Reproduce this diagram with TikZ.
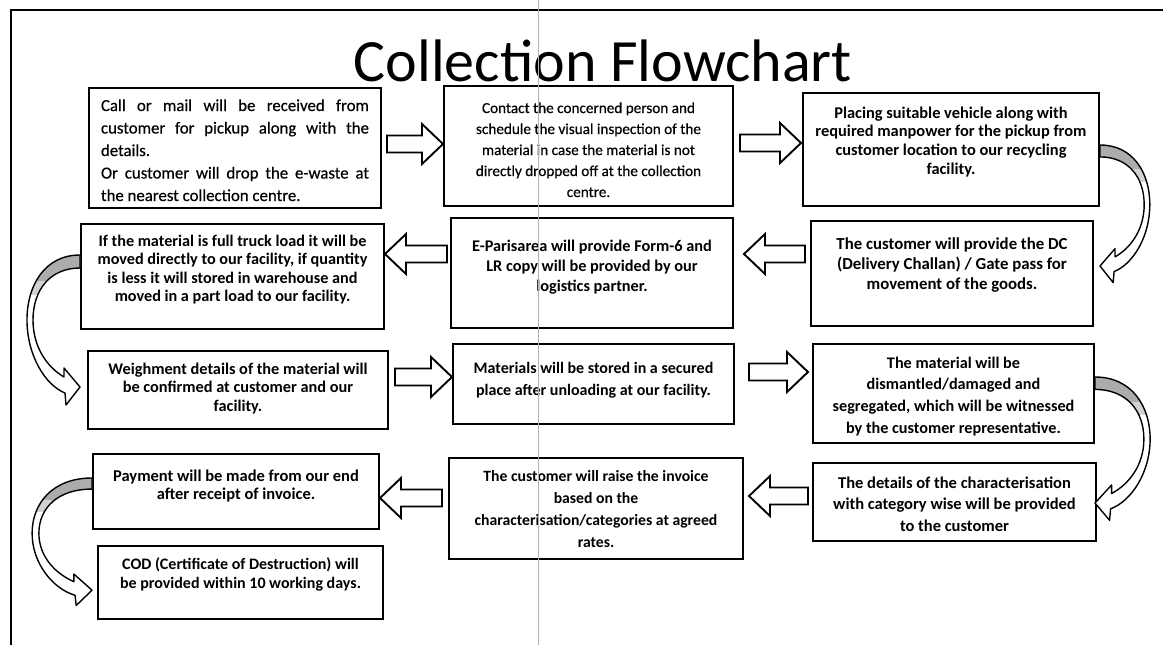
\documentclass[tikz,border=0pt]{standalone}
\usepackage{fontspec}
\setmainfont{Carlito}
\newfontfamily\regthick{Carlito}[FakeBold=0.4]
\usetikzlibrary{calc}
\tikzset{
  box/.style={draw=black, line width=2pt, fill=white, inner xsep=6pt, inner ysep=0pt, anchor=north west},
  barrow/.style={draw=black, line width=1.9pt, fill=white, line join=miter},
  cband/.style={draw=black, line width=1.4pt, line join=round},
  frameline/.style={draw=black, line width=2.4pt},
  foldline/.style={draw=gray!60, line width=0.9pt},
}
% box text: width, height, first-baseline offset, baselineskip, font size, font switch, body
\newcommand\bt[7]{\parbox[c][#2pt][t]{\dimexpr#1pt-12pt\relax}{#6\fontsize{#5}{#4}\selectfont\centering\parindent=0pt\vskip\dimexpr#3pt-13pt\relax\leavevmode\rule{0pt}{13pt}#7\par}}
% hollow block arrow between two node anchors at pixel height #3, gaps #4 (start) and #5 (tip)
\newcommand\barr[5]{%
  \draw[barrow] let \p1=(#1 |- 0,#3), \p2=(#2 |- 0,#3),
    \n1={(\x2-\x1)/abs(\x2-\x1)},
    \n2={\x1+(\n1)*#4pt}, \n3={\x2-(\n1)*#5pt}, \n4={\n3-(\n1)*21pt}
  in (\n2,\y1+8.5pt) -- (\n4,\y1+8.5pt) -- (\n4,\y1+20pt) -- (\n3,\y1)
     -- (\n4,\y1-20pt) -- (\n4,\y1-8.5pt) -- (\n2,\y1-8.5pt) -- cycle;}
% curved ribbon arrow: start point, xscale, yscale
\newcommand\bandpath{(0,0) .. controls (35,0) and (53,30) .. (53,65) .. controls (53,100) and (35,130) .. (15,138) -- (14,150) -- (0,132) -- (16,113) -- (16,122) .. controls (33,112) and (47,92) .. (47,65) .. controls (47,35) and (30,13) .. (0,13) -- cycle}
\newcommand\carr[3]{%
  \begin{scope}[shift={#1}, xscale=#2, yscale=#3]
    \fill[white] \bandpath;
    \begin{scope}
      \clip \bandpath;
      \fill[gray!65] (-2,-3) rectangle (60,26);
      \fill[gray!35] (-2,26) rectangle (60,40);
    \end{scope}
    \draw[cband] \bandpath;
  \end{scope}}
\begin{document}
\begin{tikzpicture}[x=1pt, y=-1pt]
\useasboundingbox (0,0) rectangle (1163,645);
\fill[white] (0,0) rectangle (1163,645);
\draw[frameline] (1163,10) -- (11,10) -- (11,645);

\node[anchor=base, font=\fontsize{60}{60}\selectfont] (title) at (603,81) {Collection Flowchart};

% row 1
\node[box, inner xsep=12pt] (b1) at (88,87) {\parbox[c][120pt][t]{268pt}{\regthick\fontsize{16.8}{22.5}\selectfont\parindent=0pt\parfillskip=0pt plus 1fil\vskip10pt\leavevmode\rule{0pt}{13pt}Call or mail will be received from\linebreak customer for pickup along with the\linebreak details.\par Or customer will drop the e-waste at\linebreak the nearest collection centre.\par}};
\node[box] (b2) at (443,85) {\bt{289}{120}{27}{21}{15.2}{\regthick}{Contact the concerned person and\\ schedule the visual inspection of the\\ material in case the material is not\\ directly dropped off at the collection\\ centre.}};
\node[box] (b3) at (802,92) {\bt{296}{113}{25}{18.7}{16.4}{\bfseries}{Placing suitable vehicle along with\\ required manpower for the pickup from\\ customer location to our recycling\\ facility.}};

% row 2
\node[box] (b4) at (810,220) {\bt{282}{105}{28}{20}{16.8}{\bfseries}{The customer will provide the DC\\ (Delivery Challan) / Gate pass for\\ movement of the goods.}};
\node[box] (b5) at (450,217) {\bt{282}{110}{33}{20}{16.3}{\bfseries}{E-Parisarea will provide Form-6 and\\ LR copy will be provided by our\\ logistics partner.}};
\node[box] (b6) at (80,223) {\bt{303}{105}{22}{18.5}{16.2}{\bfseries}{If the material is full truck load it will be\\ moved directly to our facility, if quantity\\ is less it will stored in warehouse and\\ moved in a part load to our facility.}};

% row 3
\node[box] (b7) at (87,350) {\bt{300}{78}{23}{18.5}{16.3}{\bfseries}{Weighment details of the material will\\ be confirmed at customer and our\\ facility.}};
\node[box] (b8) at (452,343) {\bt{281}{80}{29}{22}{16}{\bfseries}{Materials will be stored in a secured\\ place after unloading at our facility.}};
\node[box] (b9) at (812,343) {\bt{281}{99}{24}{21.7}{16.2}{\bfseries}{The material will be\\ dismantled/damaged and\\ segregated, which will be witnessed\\ by the customer representative.}};

% row 4
\node[box] (b10) at (812,462) {\bt{283}{78}{25}{21.5}{16.5}{\bfseries}{The details of the characterisation\\ with category wise will be provided\\ to the customer}};
\node[box] (b11) at (448,457) {\bt{294}{101}{23}{22.3}{15.7}{\bfseries}{The customer will raise the invoice\\ based on the\\ characterisation/categories at agreed\\ rates.}};
\node[box] (b12) at (92,453) {\bt{286}{75}{27}{18.5}{16.5}{\bfseries}{Payment will be made from our end\\ after receipt of invoice.}};
\node[box] (b13) at (97,545) {\bt{285}{73}{23}{19}{16}{\bfseries}{COD (Certificate of Destruction) will\\ be provided within 10 working days.}};

% straight block arrows
\barr{b1.east}{b2.west}{144}{5}{0}
\barr{b2.east}{b3.west}{143}{6}{1}
\barr{b4.west}{b5.east}{254}{5}{10}
\barr{b5.west}{b6.east}{254}{3}{0}
\barr{b7.east}{b8.west}{377}{6}{0}
\barr{b8.east}{b9.west}{372}{14}{4}
\barr{b10.west}{b11.east}{496}{4}{5}
\barr{b11.west}{b12.east}{498}{6}{0}

% curved ribbon arrows
\carr{($(b3.north east)+(0,53)$)}{0.94}{0.917}
\carr{($(b6.north west)+(0,32)$)}{-1}{1}
\carr{($(b9.north east)+(0,34)$)}{1.04}{0.955}
\carr{($(b12.north west)+(0,25)$)}{-1.13}{0.85}

% scanner fold line
\draw[foldline] (538,0) -- (538,645);
\end{tikzpicture}
\end{document}
